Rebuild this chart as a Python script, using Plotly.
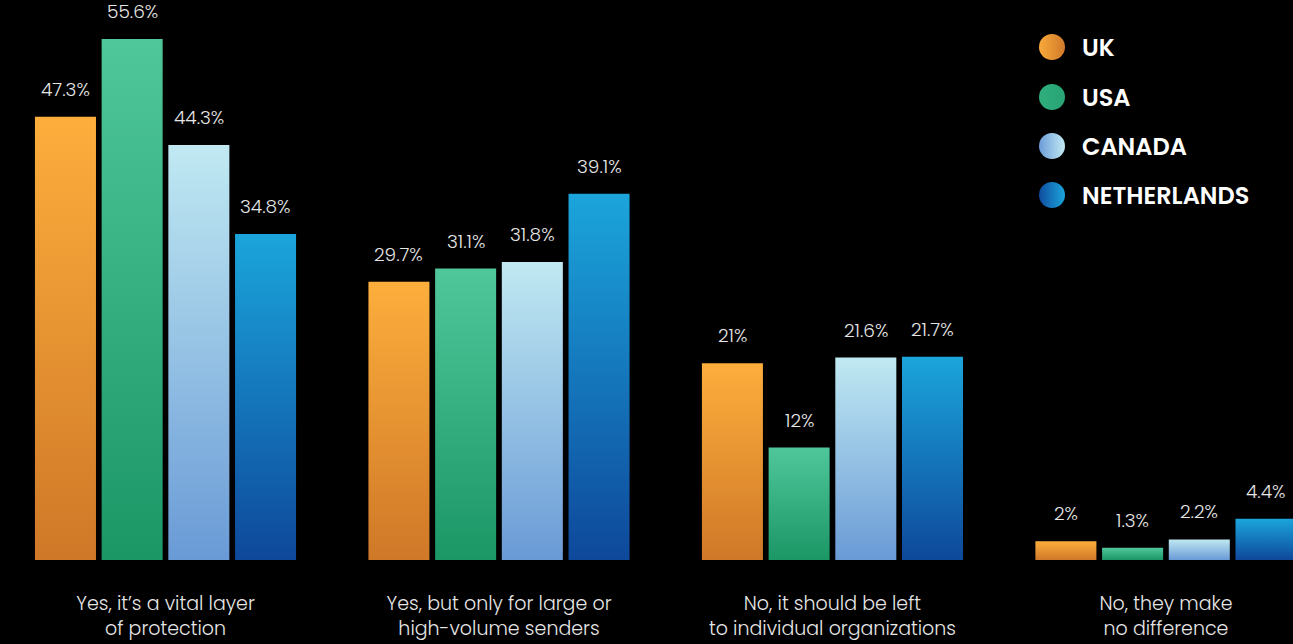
import plotly.graph_objects as go

# Survey answers and share of respondents (%) per country
categories = [
    "Yes, it’s a vital layer<br>of protection",
    "Yes, but only for large or<br>high-volume senders",
    "No, it should be left<br>to individual organizations",
    "No, they make<br>no difference",
]
countries = ["UK", "USA", "CANADA", "NETHERLANDS"]
uk = [47.3, 29.7, 21, 2]
usa = [55.6, 31.1, 12, 1.3]
canada = [44.3, 31.8, 21.6, 2.2]
netherlands = [34.8, 39.1, 21.7, 4.4]
series = [uk, usa, canada, netherlands]

# (bottom, top) gradient colours for each country
bar_colors = [
    ("#cf7828", "#fdae3c"),
    ("#1b9665", "#4fc79b"),
    ("#6a9ad6", "#c0e9f2"),
    ("#0e489b", "#1ba5db"),
]
# (left, right) gradient colours of the legend dots
dot_colors = [
    ("#f9a93b", "#d07a2a"),
    ("#2fae7c", "#29a474"),
    ("#6c9cd8", "#c2eaf3"),
    ("#0f4c9f", "#1ba5db"),
]

FONT = "Poppins, Inter, Lato, sans-serif"
slot = 0.2        # spacing between bars inside a group (category units)
half_w = 0.0915   # half bar width

fig = go.Figure()
annotations = []

for j, (name, vals) in enumerate(zip(countries, series)):
    bottom, top = bar_colors[j]
    for i, v in enumerate(vals):
        xc = i + (j - 1.5) * slot
        fig.add_trace(go.Scatter(
            x=[xc - half_w, xc + half_w, xc + half_w, xc - half_w, xc - half_w],
            y=[0, 0, v, v, 0],
            mode="lines",
            fill="toself",
            line=dict(width=0),
            fillgradient=dict(type="vertical",
                              colorscale=[[0, bottom], [1, top]]),
            showlegend=False,
            hoverinfo="skip",
        ))
        annotations.append(dict(
            x=xc, y=v, xref="x", yref="y",
            text=f"{v:g}%", showarrow=False,
            yanchor="bottom", yshift=13,
            font=dict(family=FONT, size=18.5, color="#e6e6e6", weight=300),
        ))

# Legend drawn on an overlay axis measured in pixels
legend_x = 1052
legend_y = [47, 97, 146, 195]
for j, name in enumerate(countries):
    left, right = dot_colors[j]
    fig.add_trace(go.Scatter(
        x=[legend_x], y=[legend_y[j]], xaxis="x2", yaxis="y2",
        mode="markers",
        marker=dict(size=26, color=left, line=dict(width=0),
                    gradient=dict(type="horizontal", color=right)),
        showlegend=False, hoverinfo="skip",
    ))
    annotations.append(dict(
        x=legend_x + 28, y=legend_y[j], xref="x2", yref="y2",
        text=name, showarrow=False, xanchor="left", yanchor="middle",
        font=dict(family=FONT, size=24, color="#ffffff", weight=600),
    ))

fig.update_layout(
    width=1293, height=644,
    margin=dict(l=0, r=0, t=0, b=84),
    paper_bgcolor="#000000", plot_bgcolor="#000000",
    showlegend=False,
    xaxis=dict(
        range=[-0.4963, 3.381],
        tickvals=list(range(len(categories))),
        ticktext=categories,
        tickfont=dict(family=FONT, size=19, color="#e6e6e6", weight=300),
        showgrid=False, zeroline=False, showline=False, ticks="",
        ticklabelstandoff=30,
        fixedrange=True,
    ),
    yaxis=dict(range=[0, 59.77], visible=False, fixedrange=True),
    xaxis2=dict(overlaying="x", range=[0, 1293], visible=False),
    yaxis2=dict(overlaying="y", range=[560, 0], visible=False),
    annotations=annotations,
)

fig.write_html("out.html")
